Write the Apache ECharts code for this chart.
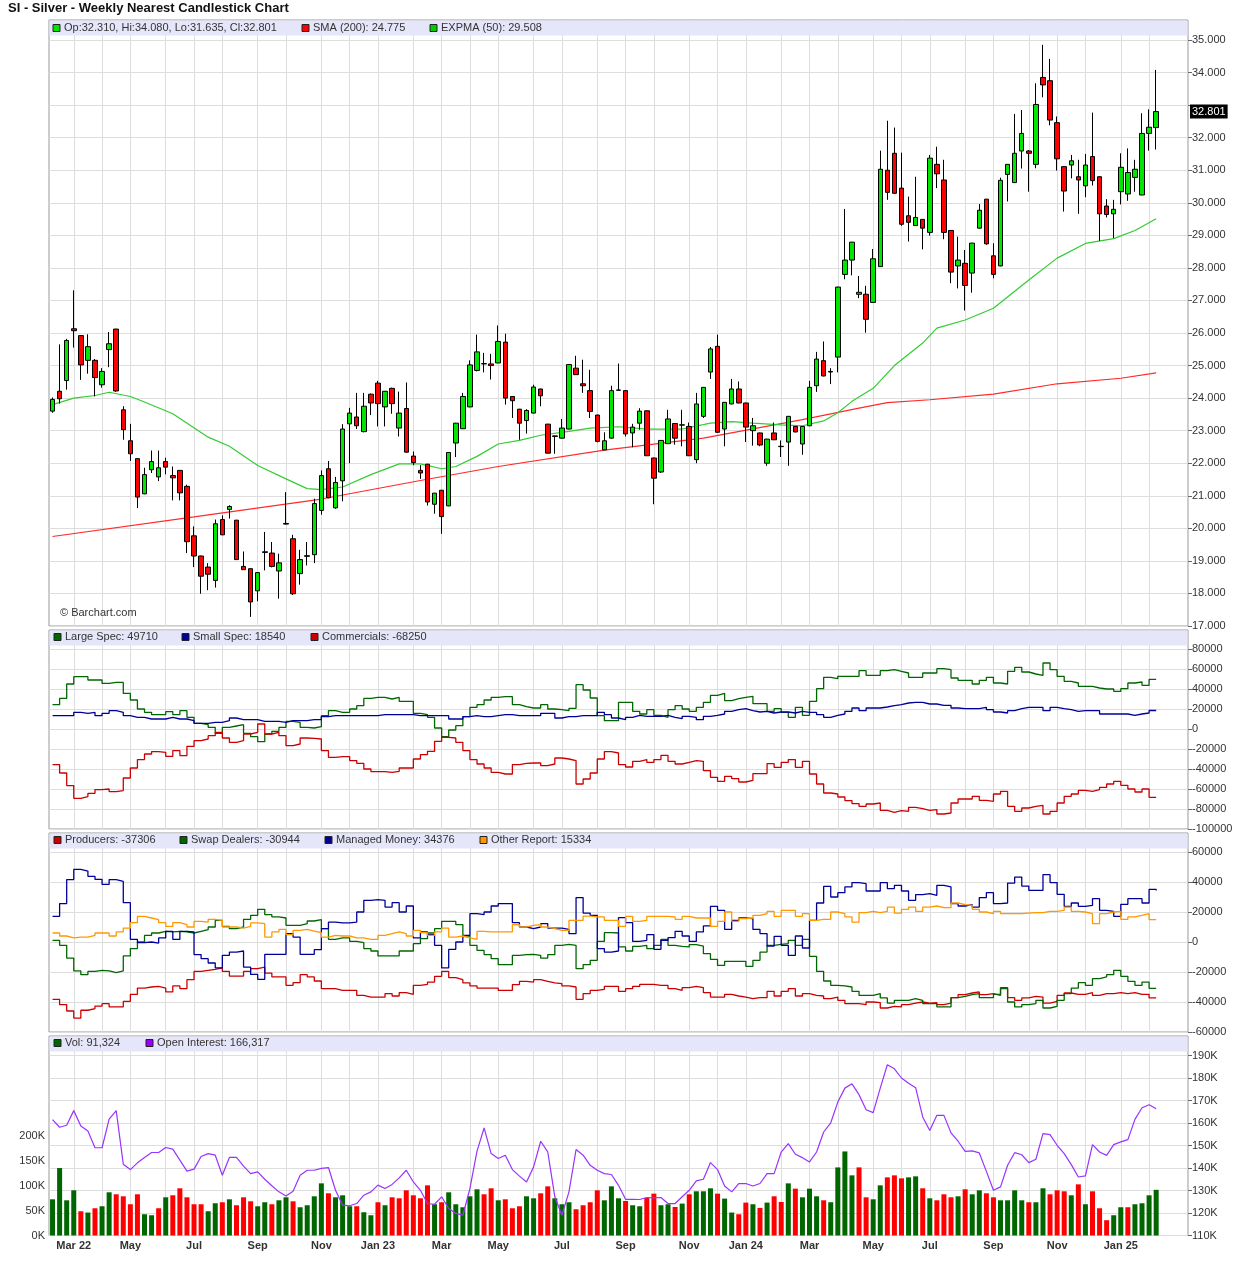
<!DOCTYPE html>
<html>
<head>
<meta charset="utf-8">
<title>SI - Silver - Weekly Nearest Candlestick Chart</title>
<script src="https://cdn.jsdelivr.net/npm/echarts@6/dist/echarts.min.js"></script>
<style>
html, body { margin: 0; padding: 0; background: #fff; }
#main { width: 1236px; height: 1276px; }
</style>
</head>
<body>
<div id="main"></div>
<script>
// weekly bars, first bar week of 2022-02-14
var firstWeek = '2022-02-14';
var padWeeks = 4;

var opens = [
  23.60,24.21,24.54,26.13,25.92,25.16,25.16,24.41,25.49,26.12,
  23.64,22.69,22.14,21.06,21.80,21.58,22.05,21.62,21.78,21.29,
  19.77,19.15,18.81,18.40,20.27,20.58,20.25,18.83,18.76,18.08,
  19.26,19.24,18.69,20.13,19.68,18.61,19.14,19.19,20.55,21.83,
  20.63,21.46,23.21,23.42,22.97,24.12,24.46,23.73,24.30,23.08,
  23.68,22.22,21.78,21.97,20.74,21.17,20.69,22.62,23.06,23.73,
  24.85,25.06,25.05,25.08,25.72,24.05,23.66,23.31,23.54,24.28,
  23.20,22.82,22.77,23.05,24.92,24.44,24.23,23.48,22.41,22.77,
  24.24,24.23,22.93,23.23,23.61,22.16,21.73,22.60,23.22,23.17,
  23.13,22.11,23.44,24.80,25.59,23.05,23.82,24.28,23.85,23.00,
  22.93,22.00,22.93,22.51,22.65,23.13,22.59,23.15,24.38,25.15,
  24.80,25.26,27.80,28.24,27.19,27.19,26.94,28.04,31.00,31.52,
  30.45,29.60,29.30,29.49,29.09,31.18,30.70,29.15,28.06,28.14,
  27.84,29.22,30.11,28.37,28.06,30.87,30.62,31.59,31.59,31.18,
  33.85,33.75,32.46,31.11,31.16,30.80,30.52,31.42,30.80,29.90,
  29.66,30.34,30.27,30.78,30.24,32.13,32.31
];
var highs = [
  24.02,25.65,25.82,27.31,25.93,25.96,25.20,24.92,26.03,26.13,
  23.75,23.21,22.15,21.86,22.39,22.39,22.17,21.90,21.79,21.34,
  20.06,19.16,18.93,20.27,20.40,20.71,20.26,19.29,18.77,18.65,
  19.89,19.58,19.22,21.11,19.80,19.34,19.58,20.91,21.78,22.07,
  21.58,23.20,23.70,24.16,24.16,24.14,24.53,24.22,24.32,24.20,
  24.48,22.36,21.94,21.98,21.09,21.18,22.34,23.24,24.16,25.16,
  25.95,25.39,25.36,26.23,25.98,24.06,23.67,23.66,24.41,24.29,
  23.21,22.85,23.36,25.04,25.30,25.18,24.87,23.49,22.95,24.38,
  25.06,24.24,23.21,23.69,23.62,22.17,22.71,23.64,23.23,23.64,
  23.25,24.16,24.34,25.57,25.95,23.88,24.59,24.51,23.86,23.39,
  22.94,22.75,23.25,22.70,23.45,23.14,23.14,24.53,25.42,25.74,
  24.92,27.42,29.81,28.80,27.75,27.45,28.58,31.60,32.52,32.31,
  31.54,30.19,30.80,29.50,31.47,31.72,31.32,29.16,28.96,28.55,
  28.77,29.96,30.12,28.76,30.77,31.19,32.73,32.85,31.62,33.67,
  34.85,34.42,32.65,31.12,31.47,31.32,31.50,32.77,30.81,30.11,
  30.09,31.52,31.67,31.32,32.75,32.87,34.08
];
var lows = [
  23.55,23.83,24.26,25.55,24.56,24.75,24.05,24.32,24.95,24.19,
  22.72,22.07,20.62,21.05,21.70,21.45,21.66,20.86,20.86,19.24,
  18.81,17.99,18.10,18.18,19.79,20.30,19.03,18.72,17.28,17.76,
  18.71,18.80,17.84,20.12,17.95,18.27,18.86,18.93,20.42,20.92,
  20.60,20.83,22.00,23.05,22.95,23.48,23.13,23.13,23.52,22.82,
  22.33,21.94,21.52,20.70,20.45,19.83,20.68,22.19,23.05,23.72,
  24.82,24.79,24.57,25.07,23.80,23.39,22.72,22.91,23.53,23.75,
  22.30,22.29,22.76,23.04,24.71,24.16,23.39,22.64,22.40,22.76,
  24.23,22.82,22.49,23.03,22.22,20.74,21.70,22.59,22.57,22.52,
  22.22,22.00,23.39,24.59,22.94,22.52,23.81,23.84,22.65,22.54,
  22.52,21.92,22.71,22.19,21.92,22.95,22.26,23.14,24.19,24.67,
  24.43,24.79,27.65,27.77,27.07,26.01,26.93,28.03,30.09,30.28,
  29.29,28.81,29.29,28.57,28.99,30.45,28.88,27.53,27.37,26.69,
  27.24,29.21,28.71,27.68,28.05,30.04,30.61,31.05,30.34,31.06,
  33.24,32.38,30.99,29.73,30.75,29.66,30.17,30.53,28.83,29.55,
  28.91,29.95,30.06,30.34,30.23,31.60,31.635
];
var closes = [
  23.96,23.98,25.77,26.07,25.02,25.58,24.63,24.82,25.67,24.22,
  23.03,22.29,20.96,21.65,22.05,21.86,21.88,21.55,21.09,19.59,
  19.15,18.53,18.59,20.14,19.80,20.67,19.04,18.73,17.74,18.64,
  19.28,18.83,18.94,20.15,17.99,19.04,19.16,20.76,21.62,20.94,
  21.41,23.05,23.54,23.15,23.75,23.85,23.83,24.21,23.83,23.54,
  22.34,22.02,21.70,20.81,21.08,20.36,22.33,23.23,24.05,25.02,
  25.42,25.05,25.00,25.74,24.00,23.92,23.23,23.62,24.34,24.07,
  22.31,22.84,23.08,25.03,24.72,24.38,23.59,22.67,22.69,24.23,
  24.25,22.90,23.11,23.60,22.23,21.54,22.70,23.36,22.77,23.18,
  22.23,23.82,24.33,25.51,22.95,23.87,24.28,23.85,23.11,23.15,
  22.56,22.74,22.72,22.52,23.44,22.96,23.13,24.33,25.20,24.68,
  24.82,27.41,28.24,28.79,27.25,26.42,28.28,31.03,30.32,30.29,
  29.34,29.40,29.55,29.22,31.37,30.89,29.09,27.87,28.24,27.46,
  28.76,29.77,28.74,27.80,30.69,31.18,31.52,32.13,31.52,33.02,
  33.62,32.54,31.35,30.36,31.29,30.70,31.16,30.68,29.66,29.64,
  29.80,31.09,30.93,31.03,32.13,32.32,32.801
];

// moving averages at [bar, value]
var sma200 = [[0,19.75],[20,20.35],[38,20.9],[52,21.47],[63,21.9],[78,22.4],[92,22.77],
  [106,23.34],[114,23.69],[118,23.86],[124,23.95],[133,24.12],[142,24.44],[151,24.61],[156,24.775]];
var expma50 = [[0,23.8],[3,24.0],[6,24.08],[8,24.18],[11,24.05],[13,23.88],[17,23.52],[22,22.8],
  [25,22.52],[29,21.93],[33,21.52],[36,21.22],[38,21.19],[41,21.27],[45,21.65],[49,21.98],[52,21.98],
  [55,21.83],[57,21.9],[60,22.21],[63,22.59],[66,22.7],[69,22.86],[73,22.98],[76,23.08],[80,23.12],
  [84,23.05],[89,23.05],[93,23.23],[96,23.28],[99,23.23],[103,23.18],[106,23.15],[109,23.3],[111,23.55],
  [113,23.9],[116,24.3],[119,25.0],[123,25.69],[125,26.15],[129,26.4],[133,26.76],[138,27.63],
  [142,28.3],[146,28.75],[150,28.9],[153,29.15],[156,29.508]];

var largeSpec = [
  24300,30600,45000,52300,52300,49000,49000,45600,46600,46600,
  35600,29000,20000,16700,14300,14300,17300,14300,18300,11700,
  5700,4300,1700,-4300,1700,3000,4300,-4300,-7700,-12700,
  -5000,-2300,1700,7700,6700,1700,1000,2300,13300,18300,
  16700,16700,20000,23300,30600,31700,31700,30000,31700,27700,
  27700,15700,14300,11700,1000,-7700,-1000,3300,12300,21700,
  24300,29000,31700,32300,32300,24300,22300,21000,21000,24300,
  20000,19300,18300,20700,44300,39000,31000,13300,8300,8300,
  26700,26700,17700,15000,19300,13700,11700,19300,23300,20000,
  17700,21700,26700,33700,35700,28300,30300,31700,32700,25300,
  25300,17700,20300,16700,11700,21700,13700,27700,40300,51700,
  50300,52700,52700,52700,58300,53700,53700,58300,59300,57700,
  56000,51700,51700,56000,56000,60300,59300,51000,48700,48700,
  45000,48700,51700,46000,45000,57700,61700,57000,55000,53700,
  66000,59300,52700,47700,46000,42700,42700,41000,40000,40000,
  37700,40300,46000,47000,43700,49700,49710
];
var smallSpec = [
  13300,13300,13300,16700,15700,16700,13300,15700,18300,16700,
  13300,11700,11700,10000,10000,10000,11700,10000,10000,8300,
  5700,5700,6700,6700,8300,11000,9300,9300,9300,7700,
  7700,7700,6700,8300,8300,8300,9300,9300,12300,13300,
  13300,13300,13300,13300,13300,13300,14300,14300,14300,14300,
  14300,13300,13300,13300,13300,13300,10000,10000,12300,13300,
  12300,12300,13300,14300,14300,13300,13300,13300,13300,15700,
  15700,11000,12300,12300,13300,13300,13300,16700,14300,11000,
  9300,11700,13700,12700,12700,12700,13700,11700,10300,12700,
  11700,9300,12700,13700,15000,17700,19300,20300,18300,17000,
  17700,16000,17000,17000,16000,17700,16700,16700,14300,11700,
  13700,15000,17700,21000,18300,21000,21000,22000,23300,24300,
  26000,26700,26700,25000,25000,23700,23700,21000,20300,20300,
  20300,21700,19300,17000,16000,18300,20300,21700,21700,21700,
  18300,21700,20300,19300,17700,18300,18300,18300,15000,15000,
  15000,15000,13700,15000,16000,18500,18540
];
var commercials = [
  -35600,-44000,-56600,-69300,-67600,-64300,-60600,-60000,-62600,-61600,
  -49000,-39000,-30600,-25000,-22600,-23300,-27300,-21600,-26600,-17300,
  -11700,-10000,-6700,-3300,-9000,-13300,-11700,-5000,-3300,5000,
  -5000,-3300,-6700,-16700,-15000,-9000,-9300,-10000,-21600,-28300,
  -27600,-27600,-31600,-34300,-40000,-42600,-42600,-43300,-42300,-39000,
  -39000,-30000,-25600,-22300,-12300,-8300,-9000,-13300,-21600,-30600,
  -35000,-39000,-43300,-45000,-45000,-35600,-34300,-34000,-34000,-36600,
  -35000,-29000,-30000,-31600,-55000,-50000,-44000,-30000,-22600,-24000,
  -35600,-38000,-32300,-30600,-33300,-30600,-26300,-32300,-35000,-33300,
  -31600,-32300,-41600,-48300,-52300,-47300,-49600,-53000,-51300,-44600,
  -44600,-34600,-38300,-33300,-30600,-38300,-32300,-45000,-55000,-64000,
  -65000,-68000,-71600,-74600,-77300,-75000,-74000,-81300,-83300,-81600,
  -82300,-78300,-79600,-81300,-80600,-85000,-84000,-74000,-70000,-70000,
  -67300,-71300,-72300,-65000,-62300,-77300,-82300,-79000,-77300,-76300,
  -85000,-82300,-74000,-67300,-65000,-61300,-62300,-60600,-58300,-55000,
  -52300,-56300,-60000,-63000,-60000,-68300,-68250
];

var producers = [
  -38200,-41800,-46000,-50700,-45500,-44400,-42700,-41100,-43300,-43300,
  -39600,-34900,-30700,-30000,-29600,-30700,-33300,-29300,-31100,-25100,
  -19600,-18900,-18200,-17300,-19600,-22700,-22700,-19600,-17800,-16700,
  -20700,-23300,-23300,-28900,-27100,-21800,-23300,-26000,-31100,-31100,
  -32200,-32200,-32200,-35600,-36700,-36700,-36700,-34400,-36000,-33800,
  -34900,-28900,-28200,-26700,-22900,-19600,-23800,-25100,-27300,-29300,
  -30700,-30700,-30700,-32200,-32200,-28400,-26200,-26700,-25100,-26200,
  -27300,-27800,-29300,-30000,-38200,-34400,-32200,-31600,-29600,-29600,
  -32900,-31100,-29600,-28200,-28200,-28900,-28900,-31100,-32200,-30400,
  -29600,-30400,-33800,-36700,-36700,-34900,-36000,-36700,-37800,-37100,
  -37100,-32900,-36000,-32900,-31100,-36000,-34400,-35600,-36000,-37800,
  -36700,-38900,-41100,-41100,-41800,-40000,-40400,-44000,-42900,-43300,
  -41800,-40700,-40000,-40700,-40400,-41800,-40700,-37100,-35100,-34000,
  -33300,-35100,-34400,-35600,-30400,-37100,-38900,-37300,-36200,-36700,
  -40700,-39600,-35600,-34000,-34900,-34900,-33800,-35600,-34400,-34400,
  -33800,-34400,-33800,-34900,-34900,-37300,-37306
];
var swapDealers = [
  1100,-2200,-10700,-19300,-21800,-19600,-18900,-19300,-20400,-19300,
  -9300,-4400,0,4400,6000,7100,6700,7100,6700,6000,
  7100,8200,10000,14400,10400,8900,10000,15100,17800,21800,
  18200,16700,16000,11100,11100,12200,14000,14900,8900,1800,
  2700,2700,400,-400,-4400,-6000,-9300,-9300,-9300,-6000,
  -6000,-1100,2200,6000,8900,13800,13800,11600,4000,-2200,
  -5600,-8400,-11100,-15100,-15100,-8900,-8400,-8200,-8900,-10700,
  -8400,-2200,-1600,-2200,-17800,-15100,-12200,400,6200,6000,
  -3300,-6000,-2900,-2200,-4400,-2200,1800,-2200,-2900,-3300,
  -1800,-2700,-7800,-11600,-15600,-12900,-12900,-12900,-16200,-12200,
  -6700,-2200,-1600,-1100,1100,-2200,1800,-9600,-19600,-26000,
  -28900,-29300,-30000,-32900,-35600,-35600,-34400,-37300,-40700,-38900,
  -38900,-37800,-38900,-41100,-41100,-43300,-43300,-37100,-36200,-35100,
  -34400,-37100,-37100,-34900,-31100,-40000,-43300,-41800,-41100,-38900,
  -44000,-42900,-38900,-34400,-30700,-27100,-28900,-24400,-23300,-21800,
  -18900,-22900,-26200,-28900,-26700,-30900,-30944
];
var managedMoney = [
  17100,25600,41600,48400,47300,43800,41800,38400,41600,40400,
  26200,1800,-400,0,-700,2700,7100,1800,7100,6700,
  -8400,-11100,-14000,-17300,-8900,-6700,-6000,-16700,-21600,-24900,
  -8200,-8200,-8200,5600,3300,-8200,-8200,-5100,8900,13300,
  12700,12700,13300,20000,27800,28200,27800,23300,26200,20000,
  24000,2700,6700,4900,-2200,-17300,-4900,0,4400,18900,
  18200,20000,24000,25600,25600,12900,10000,8900,10000,12200,
  9300,9300,8400,5600,29600,19300,17800,-4400,-6700,-6000,
  16200,12900,400,1100,4900,-4900,1100,2900,7100,4000,
  400,6700,10700,23800,21100,8400,14400,16000,15600,8400,
  5600,-2700,3800,-2200,-8900,4000,-4000,14400,26000,37100,
  30000,32900,36700,39600,38900,34000,34000,39600,35600,37800,
  34000,27800,31600,32200,31100,37800,36700,25600,24000,24900,
  23300,29600,32900,25600,26000,39300,43300,37300,34400,34400,
  44900,39600,31800,23800,26000,23800,24400,28900,21100,20400,
  17100,25100,28900,28900,26000,35100,34376
];
var otherReport = [
  6000,4000,2700,3300,3300,4400,6000,6000,4000,6700,
  9300,12900,17100,16000,14900,12900,10400,12900,11600,10000,
  13800,13300,15100,14400,10000,10000,9300,10400,12700,12200,
  3300,6700,8400,4900,7800,8400,7300,6200,3300,4400,
  4000,4000,2700,2700,1800,1800,4400,5600,6700,5600,
  4000,7800,6200,4400,6700,9300,3300,4000,2700,1800,
  7100,6700,6700,6700,6700,11600,10000,11100,11600,10000,
  8900,7800,7800,14400,14400,17300,16700,16700,14400,14400,
  10400,17100,13800,14400,17100,17100,17100,16700,15100,17100,
  16000,16000,16000,10400,13800,20000,13800,15600,16000,17800,
  18900,20400,17100,21100,21100,17100,18900,14400,15100,15100,
  20000,18900,16700,13300,19600,20400,19600,20400,23300,19300,
  21800,23300,20400,23300,24000,22900,22900,26000,24900,24400,
  21800,20000,18900,20400,18900,18900,18900,19300,19600,19600,
  20400,20400,21100,23300,20400,20000,18900,12200,18900,20000,
  20400,15100,16700,17800,18900,14900,15334
];

var volume = [
  72400,134900,70400,90400,48500,45900,54500,58500,86400,82400,
  78400,62500,82400,42500,40500,54500,76400,80400,94400,76400,
  62500,62500,48500,64500,66500,72400,60500,76400,68400,58500,
  66500,62500,70400,76400,68400,56500,60500,78400,104300,84400,
  76400,80400,58500,58500,46500,40500,66500,60500,76400,74400,
  90400,80400,74400,100300,62500,66500,86400,62500,56500,78400,
  92400,82400,94400,70400,72400,54500,58500,78400,74400,84400,
  98300,74400,62500,66500,52500,60500,66500,90400,70400,98300,
  74400,69100,60500,58500,75100,83700,60500,62500,57100,63800,
  82400,88400,88400,94400,83700,73800,45900,42500,65800,62500,
  55200,65800,78400,67100,104300,93700,76400,93700,78400,70400,
  66500,136200,168100,120300,136200,76400,72400,100300,116300,120300,
  114300,116300,118300,94400,74400,70400,82400,76400,78400,92400,
  82400,90400,84400,76400,70400,70400,90400,70400,66500,66500,
  94400,82400,90400,88400,80400,102300,62500,88400,54500,30600,
  40500,56500,56500,62500,64500,80400,91324
];
var openInterest = [
  161500,158100,159000,165500,158700,156400,149000,149000,161700,165500,
  141700,139300,142300,144700,146900,146900,149100,148400,143500,138600,
  139500,145100,146400,145700,136800,144700,144700,140800,137500,138300,
  135000,132100,129400,127600,129700,136800,139000,139000,139800,140200,
  130100,123500,123200,124200,127900,129400,132400,130900,132700,135600,
  139000,133800,130100,124200,123900,127200,122000,119800,119000,130900,
  147500,157800,146400,144200,145700,139300,136400,133800,140500,151900,
  147200,127200,119000,129400,148200,145700,141200,139000,137500,137100,
  132300,126100,126100,126000,126900,126700,126900,124200,124200,127200,
  130100,134300,135000,142400,139300,132000,129400,133100,133100,132000,
  133100,137500,137500,147100,150800,146100,144600,142700,147100,156000,
  160100,169300,175500,177400,172600,165900,164600,175500,185900,184100,
  180000,177700,175700,162700,156700,163400,163400,155600,151900,147400,
  147600,146700,138500,130100,131600,141200,146800,145900,142400,143900,
  155300,154800,150100,146400,141500,136000,136500,150400,147100,145600,
  150400,151600,152600,161600,166800,168100,166317
];

var monthNames = ['Jan','Feb','Mar','Apr','May','Jun','Jul','Aug','Sep','Oct','Nov','Dec'];
var FONT = '"Liberation Sans", Arial, sans-serif';

var n = opens.length;
var dates = [];
var t0 = Date.parse(firstWeek + 'T00:00:00Z');
for (var i = 0; i < n; i++) {
  dates.push(new Date(t0 + i * 7 * 86400000).toISOString().slice(0, 10));
}
var cats = dates.slice();
for (var p = 0; p < padWeeks; p++) cats.push('');

function isMonthStart(idx) {
  return idx < n && parseInt(dates[idx].slice(8, 10), 10) <= 7;
}
function isLabel(idx) {
  return isMonthStart(idx) && parseInt(dates[idx].slice(5, 7), 10) % 2 === 1;
}
var firstLabel = -1;
for (var k = 0; k < n; k++) { if (isLabel(k)) { firstLabel = k; break; } }

var last = n - 1;
var lastClose = closes[last];

var candleData = [];
var volData = [];
for (var j = 0; j < n; j++) {
  candleData.push([opens[j], closes[j], lows[j], highs[j]]);
  var up = j === 0 || closes[j] >= closes[j - 1];
  volData.push({ value: volume[j], itemStyle: { color: up ? '#006600' : '#ff0000' } });
}

var grids = [
  { left: 49, right: 48, top: 20, height: 606 },
  { left: 49, right: 48, top: 630, height: 199 },
  { left: 49, right: 48, top: 833, height: 199 },
  { left: 49, right: 48, top: 1036, height: 199.5 }
];
grids.forEach(function (g) {
  g.show = true; g.borderColor = '#999'; g.borderWidth = 1; g.backgroundColor = 'transparent';
});

var gridLine = { color: '#dddddd', width: 1 };

function xAxisFor(gi) {
  return {
    type: 'category', gridIndex: gi, data: cats, boundaryGap: true,
    axisLine: { show: false }, axisTick: { show: false },
    splitLine: { show: true, interval: function (idx) { return isMonthStart(idx); }, alignWithLabel: true, lineStyle: gridLine },
    axisLabel: gi === 3 ? {
      show: true, interval: function (idx) { return isLabel(idx); },
      formatter: function (val, idx) {
        var m = parseInt(val.slice(5, 7), 10);
        var s = monthNames[m - 1];
        if (m === 1 || idx === firstLabel) s += ' ' + val.slice(2, 4);
        return s;
      },
      fontFamily: FONT, fontSize: 11, fontWeight: 'bold', color: '#333', margin: 5
    } : { show: false }
  };
}

function steps(from, to, step) {
  var out = [];
  for (var v = from; v <= to + 1e-9; v += step) out.push(Math.round(v * 1000) / 1000);
  return out;
}

function rightAxis(gi, min, max, interval, top, fmt) {
  var marks = steps(min, top, interval);
  return {
    type: 'value', gridIndex: gi, position: 'right', min: min, max: max, interval: interval,
    axisLine: { show: false },
    axisTick: { show: true, length: 4, lineStyle: { color: '#666' }, customValues: marks },
    splitLine: { show: true, lineStyle: gridLine },
    axisLabel: { fontFamily: FONT, fontSize: 11, color: '#333', margin: 4, formatter: fmt, customValues: marks }
  };
}

function stepLine(name, data, color, xi) {
  return {
    name: name, type: 'line', step: 'end', data: data, xAxisIndex: xi, yAxisIndex: xi,
    symbol: 'none', silent: true, lineStyle: { color: color, width: 1.3 }, z: 3
  };
}

function legend(y, items) {
  var els = [];
  items.forEach(function (it) {
    els.push({ type: 'rect', shape: { x: it[0], y: y - 3.5, width: 7, height: 7 },
      style: { fill: it[1], stroke: '#222', lineWidth: 1 }, z: 10 });
    els.push({ type: 'text', x: it[0] + 11, y: y,
      style: { text: it[2], fill: '#333', font: '11px ' + FONT, verticalAlign: 'middle' }, z: 10 });
  });
  return els;
}
function band(g) {
  return { type: 'rect', shape: { x: g.left + 0.5, y: g.top + 0.5, width: 1236 - g.left - g.right - 1, height: 15 },
    style: { fill: '#e6e6fa' }, z: 5 };
}
function num(v) { return String(v).replace(/\B(?=(\d{3})+(?!\d))/g, ','); }

var graphics = [
  { type: 'text', x: 8, y: 8, style: { text: 'SI - Silver - Weekly Nearest Candlestick Chart', fill: '#111',
    font: 'bold 13px ' + FONT, verticalAlign: 'middle' }, z: 10 },
  { type: 'text', x: 60, y: 613, style: { text: '\u00a9 Barchart.com', fill: '#333', font: '11px ' + FONT,
    verticalAlign: 'middle' }, z: 10 }
];
grids.forEach(function (g) { graphics.push(band(g)); });
graphics = graphics.concat(
  legend(28, [
    [53, '#00e600', 'Op:' + opens[last].toFixed(3) + ', Hi:' + highs[last].toFixed(3) + ', Lo:' + lows[last].toFixed(3) + ', Cl:' + closes[last].toFixed(3)],
    [302, '#ff0000', 'SMA (200): ' + sma200[sma200.length - 1][1].toFixed(3)],
    [430, '#00cc00', 'EXPMA (50): ' + expma50[expma50.length - 1][1].toFixed(3)]
  ]),
  legend(637, [
    [54, '#006600', 'Large Spec: ' + largeSpec[last]],
    [182, '#000099', 'Small Spec: ' + smallSpec[last]],
    [311, '#cc0000', 'Commercials: ' + commercials[last]]
  ]),
  legend(840, [
    [54, '#cc0000', 'Producers: ' + producers[last]],
    [180, '#006600', 'Swap Dealers: ' + swapDealers[last]],
    [325, '#000099', 'Managed Money: ' + managedMoney[last]],
    [480, '#ff9900', 'Other Report: ' + otherReport[last]]
  ]),
  legend(1043, [
    [54, '#006600', 'Vol: ' + num(volume[last])],
    [146, '#9900ff', 'Open Interest: ' + num(openInterest[last])]
  ])
);

var chart = echarts.init(document.getElementById('main'));
chart.setOption({
  animation: false,
  backgroundColor: '#ffffff',
  textStyle: { fontFamily: FONT },
  grid: grids,
  xAxis: [xAxisFor(0), xAxisFor(1), xAxisFor(2), xAxisFor(3)],
  yAxis: [
    rightAxis(0, 17, 35.614, 1, 35, function (v) {
      return (v > 35.01 || Math.abs(v - lastClose) < 0.4) ? '' : v.toFixed(3);
    }),
    rightAxis(1, -100000, 99000, 20000, 80000, function (v) { return v > 80000 ? '' : String(v); }),
    rightAxis(2, -60000, 72667, 20000, 60000, function (v) { return v > 60000 ? '' : String(v); }),
    {
      type: 'value', gridIndex: 3, position: 'left', min: 0, max: 399000, interval: 50000,
      axisLine: { show: false }, axisTick: { show: false }, splitLine: { show: false },
      axisLabel: { fontFamily: FONT, fontSize: 11, color: '#333', margin: 4,
        formatter: function (v) { return v > 200000 ? '' : (v / 1000) + 'K'; } }
    },
    rightAxis(3, 110000, 198667, 10000, 190000, function (v) { return v > 190000 ? '' : (v / 1000) + 'K'; })
  ],
  graphic: graphics,
  series: [
    {
      name: 'SI', type: 'candlestick', data: candleData, xAxisIndex: 0, yAxisIndex: 0, barWidth: 5,
      clip: false,
      itemStyle: { color: '#00e600', color0: '#ff0000', borderColor: '#000', borderColor0: '#000', borderWidth: 1 },
      markLine: {
        silent: true, symbol: ['none', 'none'], data: [{ yAxis: lastClose }],
        lineStyle: { color: 'rgba(0,0,0,0)', width: 1, type: 'solid' },
        label: { show: true, position: 'end', distance: 2, formatter: lastClose.toFixed(3), backgroundColor: '#000',
          color: '#fff', fontSize: 11, fontFamily: FONT, padding: [2, 2, 1, 2] }
      },
      z: 4
    },
    { name: 'SMA (200)', type: 'line', data: sma200, xAxisIndex: 0, yAxisIndex: 0, symbol: 'none',
      lineStyle: { color: '#ff2a2a', width: 1.2 }, z: 3 },
    { name: 'EXPMA (50)', type: 'line', data: expma50, xAxisIndex: 0, yAxisIndex: 0, symbol: 'none',
      lineStyle: { color: '#33cc33', width: 1.2 }, z: 3 },

    stepLine('Large Spec', largeSpec, '#006600', 1),
    stepLine('Small Spec', smallSpec, '#000099', 1),
    stepLine('Commercials', commercials, '#cc0000', 1),

    stepLine('Producers', producers, '#cc0000', 2),
    stepLine('Swap Dealers', swapDealers, '#006600', 2),
    stepLine('Managed Money', managedMoney, '#000099', 2),
    stepLine('Other Report', otherReport, '#ff9900', 2),

    { name: 'Vol', type: 'bar', data: volData, xAxisIndex: 3, yAxisIndex: 3, barWidth: 5, z: 2 },
    { name: 'Open Interest', type: 'line', data: openInterest, xAxisIndex: 3, yAxisIndex: 4, symbol: 'none',
      lineStyle: { color: '#9933ff', width: 1.2 }, z: 3 }
  ]
});
</script>
</body>
</html>
